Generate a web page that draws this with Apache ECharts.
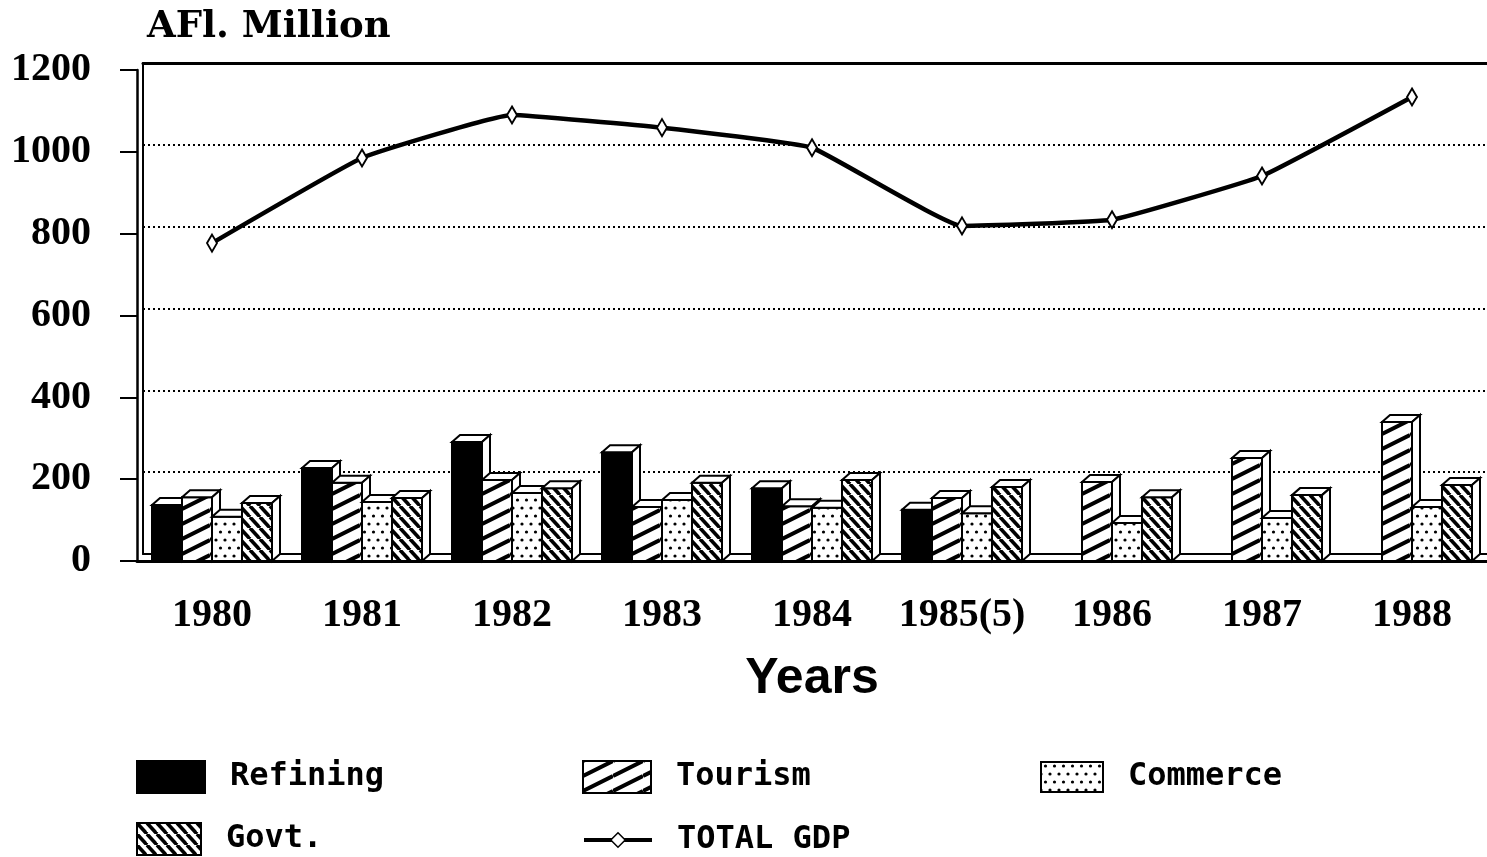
<!DOCTYPE html>
<html><head><meta charset="utf-8">
<script src="https://cdn.jsdelivr.net/npm/echarts@6/dist/echarts.min.js"></script>
<style>html,body{margin:0;padding:0;background:#fff}#c{width:1487px;height:857px}</style>
</head><body><div id="c"></div>
<script>
// ---- data ----
var years = ['1980', '1981', '1982', '1983', '1984', '1985(5)', '1986', '1987', '1988'];
var refining = [137, 227, 291, 266, 178, 125, null, null, null];
var tourism = [156, 191, 198, 132, 134, 154, 193, 252, 340];
var commerce = [108, 144, 166, 149, 130, 117, 93, 105, 132];
var govt = [142, 154, 178, 191, 198, 181, 156, 161, 186];
var totalGdp = [777, 985, 1090, 1059, 1010, 819, 834, 941, 1134];
var yMin = 0, yMax = 1200, yStep = 200;
var seriesNames = ['Refining', 'Tourism', 'Commerce', 'Govt.', 'TOTAL GDP'];

// ---- fill patterns ----
function makeCanvas(w, h, draw) {
  var c = document.createElement('canvas');
  c.width = w; c.height = h;
  var g = c.getContext('2d');
  g.fillStyle = '#fff'; g.fillRect(0, 0, w, h);
  draw(g, w, h);
  return c;
}
var patTourism = { image: makeCanvas(30, 15, function (g, w, h) {
  g.strokeStyle = '#000'; g.lineWidth = 4;
  for (var k = -1; k <= 1; k++) { g.beginPath(); g.moveTo(0, h + k * h); g.lineTo(w, k * h); g.stroke(); }
}), repeat: 'repeat' };
var patGovt = { image: makeCanvas(10, 11, function (g, w, h) {
  g.strokeStyle = '#000'; g.lineWidth = 3.6;
  for (var k = -1; k <= 1; k++) { g.beginPath(); g.moveTo(k * w, 0); g.lineTo(w + k * w, h); g.stroke(); }
}), repeat: 'repeat' };
var patCommerce = { image: makeCanvas(18, 16, function (g, w, h) {
  g.fillStyle = '#000';
  var pts = [[4.5, 4], [13.5, 4], [0, 12], [9, 12], [18, 12]];
  pts.forEach(function (p) { g.beginPath(); g.arc(p[0], p[1], 1.6, 0, Math.PI * 2); g.fill(); });
}), repeat: 'repeat' };
var fills = ['#000', patTourism, patCommerce, patGovt];
var values = [refining, tourism, commerce, govt];

function bar3d(slot, fill) {
  return function (params, api) {
    var v = api.value(1);
    if (v == null || isNaN(v)) return;
    var ci = api.value(0);
    var bw = api.size([1, 0])[0] * 0.2;
    var p0 = api.coord([ci, 0]), p1 = api.coord([ci, v]);
    var x0 = p0[0] + (slot - 2) * bw, x1 = x0 + bw, yb = p0[1], yt = p1[1];
    var dx = 8, dy = 7;
    var st = { fill: '#fff', stroke: '#000', lineWidth: 2 };
    return { type: 'group', children: [
      { type: 'rect', shape: { x: x0, y: yt, width: bw, height: yb - yt }, style: { fill: fill, stroke: '#000', lineWidth: 2 } },
      { type: 'polygon', shape: { points: [[x0, yt], [x0 + dx, yt - dy], [x1 + dx, yt - dy], [x1, yt]] }, style: st },
      { type: 'polygon', shape: { points: [[x1, yt], [x1 + dx, yt - dy], [x1 + dx, yb - dy], [x1, yb]] }, style: st }
    ] };
  };
}

var numFont = { fontFamily: 'Liberation Serif', fontWeight: 'bold', fontSize: 40, color: '#000' };
var legendText = { fontFamily: 'DejaVu Sans Mono', fontWeight: 'bold', fontSize: 32, color: '#000', padding: [0, 0, 0, 20] };

var series = [];
for (var s = 0; s < 4; s++) {
  series.push({
    type: 'custom', name: seriesNames[s], xAxisIndex: 0, yAxisIndex: 0,
    itemStyle: { color: fills[s], borderColor: '#000', borderWidth: 2 },
    renderItem: bar3d(s, fills[s]),
    encode: { x: 0, y: 1 },
    data: values[s].map(function (v, i) { return [i, v == null ? NaN : v]; }),
    z: 3
  });
}
series.push({
  type: 'line', name: seriesNames[4], xAxisIndex: 0, yAxisIndex: 0,
  data: totalGdp, smooth: 0.1,
  symbol: 'diamond', symbolSize: [10, 17],
  itemStyle: { color: '#fff', borderColor: '#000', borderWidth: 2 },
  lineStyle: { color: '#000', width: 4.5 },
  z: 5
});

function oneLegend(name, left, top, icon, w, h) {
  var l = { left: left, top: top, padding: 0, data: [name], itemWidth: w, itemHeight: h, textStyle: legendText };
  if (icon) l.icon = icon;
  return l;
}
var gdpLegend = oneLegend('TOTAL GDP', 582, 824, null, 68, 18);
gdpLegend.lineStyle = { width: 4, color: '#000' };
gdpLegend.itemStyle = { borderWidth: 1.5 };

var chart = echarts.init(document.getElementById('c'), null, { renderer: 'canvas' });
chart.setOption({
  backgroundColor: '#fff',
  animation: false,
  title: { text: 'AFl. Million', left: 142, top: 4,
    textStyle: { fontFamily: 'DejaVu Serif', fontWeight: 'bold', fontSize: 37, color: '#000' } },
  grid: [
    { left: 137, top: 70, width: 1351, height: 491 },
    { left: 143, top: 63, width: 1351, height: 491 }
  ],
  xAxis: [
    { type: 'category', gridIndex: 0, data: years,
      axisLine: { lineStyle: { color: '#000', width: 3 } },
      axisTick: { alignWithLabel: true, length: 16, lineStyle: { color: '#000', width: 2 } },
      axisLabel: Object.assign({ margin: 35, interval: 0 }, numFont),
      name: 'Years', nameLocation: 'middle', nameGap: 93,
      nameTextStyle: { fontFamily: 'Liberation Sans', fontWeight: 'bold', fontSize: 50, color: '#000' } },
    { type: 'category', gridIndex: 1, data: years, position: 'bottom',
      axisLine: { lineStyle: { color: '#000', width: 2 } }, axisTick: { show: false }, axisLabel: { show: false } },
    { type: 'category', gridIndex: 1, data: years, position: 'top',
      axisLine: { lineStyle: { color: '#000', width: 3 } }, axisTick: { show: false }, axisLabel: { show: false } }
  ],
  yAxis: [
    { type: 'value', gridIndex: 0, min: yMin, max: yMax, interval: yStep,
      axisLine: { show: true, lineStyle: { color: '#000', width: 2.5 } },
      axisTick: { show: true, length: 17, lineStyle: { color: '#000', width: 2 } },
      axisLabel: Object.assign({ margin: 46, formatter: function (v) { return String(v); } }, numFont),
      splitLine: { show: false } },
    { type: 'value', gridIndex: 1, min: yMin, max: yMax, interval: yStep,
      axisLine: { show: true, lineStyle: { color: '#000', width: 2 } },
      axisTick: { show: false }, axisLabel: { show: false },
      splitLine: { show: true, lineStyle: { color: '#000', width: 2, type: [2, 3] } } }
  ],
  legend: [
    oneLegend('Refining', 136, 760, 'rect', 68, 32),
    oneLegend('Govt.', 136, 822, 'rect', 64, 32),
    oneLegend('Tourism', 582, 760, 'rect', 68, 32),
    gdpLegend,
    oneLegend('Commerce', 1040, 761, 'rect', 62, 30)
  ],
  series: series
});
</script></body></html>
